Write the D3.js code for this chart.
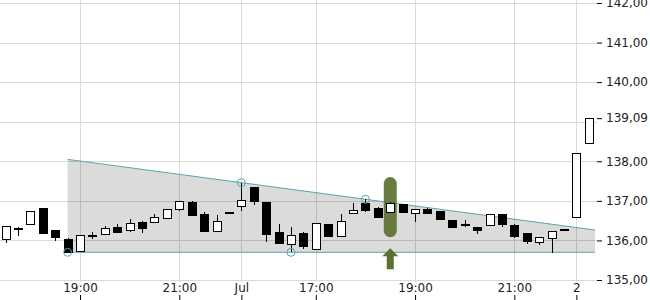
<!DOCTYPE html>
<html>
<head>
<meta charset="utf-8">
<script src="https://cdn.jsdelivr.net/npm/d3@7"></script>
<style>
  body { margin: 0; background: #fff; }
  text { font-family: "DejaVu Sans", sans-serif; font-size: 12px; fill: #222; }
</style>
</head>
<body>
<div id="chart"></div>
<script>
// 15-minute candles
var opens  = [136.04,136.32,136.41,136.81,136.26,136.04,135.73,136.13,136.16,136.33,136.26,136.46,
              136.46,136.56,136.79,136.96,136.66,136.23,136.71,136.86,137.34,136.96,136.21,135.91,
              136.19,135.79,136.41,136.10,136.70,136.95,136.81,136.71,136.93,136.69,136.80,136.75,
              136.52,136.42,136.33,136.38,136.67,136.38,136.18,135.97,136.07,136.28,136.58,138.45];
var highs  = [136.36,136.33,136.74,136.81,136.26,136.06,136.13,136.21,136.36,136.41,136.53,136.50,
              136.66,136.79,136.99,136.99,136.71,136.63,136.71,137.46,137.34,136.96,136.42,136.34,
              136.22,136.43,136.41,136.67,136.94,137.04,136.84,136.98,136.93,136.79,136.82,136.75,
              136.52,136.52,136.33,136.67,136.67,136.42,136.18,136.09,136.25,136.28,138.20,139.09];
var lows   = [135.94,136.11,136.41,136.20,135.99,135.70,135.73,136.04,136.16,136.21,136.22,136.20,
              136.46,136.53,136.74,136.63,136.21,136.23,136.71,136.75,136.90,135.97,135.94,135.70,
              135.78,135.79,136.12,136.10,136.68,136.73,136.60,136.71,136.73,136.47,136.69,136.55,
              136.35,136.33,136.15,136.36,136.35,136.06,135.91,135.88,135.67,136.28,136.58,138.45];
var closes = [136.36,136.32,136.74,136.20,136.08,135.70,136.13,136.13,136.31,136.21,136.43,136.31,
              136.58,136.79,136.99,136.63,136.25,136.48,136.71,137.01,137.00,136.17,135.94,136.13,
              135.87,136.43,136.12,136.48,136.76,136.78,136.60,136.95,136.73,136.79,136.69,136.55,
              136.35,136.42,136.26,136.67,136.41,136.11,135.99,136.09,136.25,136.28,138.20,139.09];

var tickIdx    = [6, 14, 19, 25, 33, 41, 46];
var tickLabels = ["19:00", "21:00", "Jul", "17:00", "19:00", "21:00", "2"];
var yTicks     = [135, 136, 137, 138, 139, 140, 141, 142];

// triangle pivots: [candle index, "high"/"low"]
var pivots   = [[5, "low"], [19, "high"], [23, "low"], [29, "high"]];
var signalIdx = 31;

var W = 650, H = 300;
var plotRight = 595, plotBottom = 282;

var fmt = d3.formatLocale({ decimal: ",", thousands: ".", grouping: [3], currency: ["", "€"] }).format(".2f");

var x = d3.scaleLinear().domain([-0.45, opens.length - 0.5]).range([0, plotRight]);
var y = d3.scaleLinear().domain([135, 142]).range([280, 3]);

var svg = d3.select("#chart").append("svg")
    .attr("width", W)
    .attr("height", H);

// grid
svg.append("g").selectAll("line")
    .data(yTicks).enter().append("line")
    .attr("x1", 0).attr("x2", plotRight + 2)
    .attr("y1", function (d) { return Math.round(y(d)) + 0.5; })
    .attr("y2", function (d) { return Math.round(y(d)) + 0.5; })
    .attr("stroke", "#d9d9d9");
svg.append("g").selectAll("line")
    .data(tickIdx).enter().append("line")
    .attr("x1", function (d) { return Math.round(x(d)) + 0.5; })
    .attr("x2", function (d) { return Math.round(x(d)) + 0.5; })
    .attr("y1", 0).attr("y2", plotBottom)
    .attr("stroke", "#d9d9d9");

// triangle
var hi1 = pivots[1], hi2 = pivots[3];
var slope = (highs[hi2[0]] - highs[hi1[0]]) / (hi2[0] - hi1[0]);
function upper(i) { return highs[hi1[0]] + (i - hi1[0]) * slope; }
var startIdx = pivots[0][0];
var endIdx = x.invert(plotRight);
var lowVal = lows[pivots[0][0]];

svg.append("path")
    .attr("d", d3.line()([
        [x(startIdx), y(upper(startIdx))],
        [x(endIdx), y(upper(endIdx))],
        [x(endIdx), y(lowVal)],
        [x(startIdx), y(lowVal)]
    ]))
    .attr("fill", "#000")
    .attr("fill-opacity", 0.14);
svg.append("line")
    .attr("x1", x(startIdx)).attr("y1", y(upper(startIdx)))
    .attr("x2", x(endIdx)).attr("y2", y(upper(endIdx)))
    .attr("stroke", "#5aa5ad");
svg.append("line")
    .attr("x1", x(startIdx)).attr("y1", y(lowVal))
    .attr("x2", x(endIdx)).attr("y2", y(lowVal))
    .attr("stroke", "#5aa5ad");

// signal marker
var sx = x(signalIdx);
svg.append("rect")
    .attr("x", sx - 6.5).attr("width", 13)
    .attr("y", y(137.60)).attr("height", y(136.08) - y(137.60))
    .attr("rx", 6.5).attr("ry", 6.5)
    .attr("fill", "#5c7232")
    .attr("fill-opacity", 0.92);
svg.append("path")
    .attr("d", d3.line()([
        [sx, y(135.8)], [sx + 8, y(135.6)], [sx + 3.5, y(135.6)], [sx + 3.5, y(135.27)],
        [sx - 3.5, y(135.27)], [sx - 3.5, y(135.6)], [sx - 8, y(135.6)]
    ]) + "Z")
    .attr("fill", "#5c7232");

// candles
var idx = d3.range(opens.length);
var bw = 8;
var candles = svg.append("g").attr("shape-rendering", "crispEdges");
candles.selectAll("line.wick")
    .data(idx).enter().append("line")
    .attr("class", "wick")
    .attr("x1", function (i) { return Math.round(x(i)) + 0.5; })
    .attr("x2", function (i) { return Math.round(x(i)) + 0.5; })
    .attr("y1", function (i) { return y(highs[i]); })
    .attr("y2", function (i) { return y(lows[i]); })
    .attr("stroke", "#000");
candles.selectAll("rect")
    .data(idx).enter().append("rect")
    .attr("x", function (i) { return Math.round(x(i)) - bw / 2 + 0.5; })
    .attr("width", bw)
    .attr("y", function (i) { return Math.round(y(Math.max(opens[i], closes[i]))) + 0.5; })
    .attr("height", function (i) {
        var h = Math.round(y(Math.min(opens[i], closes[i]))) - Math.round(y(Math.max(opens[i], closes[i])));
        return Math.max(h, 1);
    })
    .attr("fill", function (i) { return closes[i] > opens[i] ? "#fff" : "#000"; })
    .attr("stroke", "#000");

// pivot circles
svg.append("g").selectAll("circle")
    .data(pivots).enter().append("circle")
    .attr("cx", function (d) { return x(d[0]); })
    .attr("cy", function (d) { return y(d[1] === "high" ? highs[d[0]] : lows[d[0]]); })
    .attr("r", 4)
    .attr("fill", "none")
    .attr("stroke", "#5aa5ad");

// axes
var last = closes[closes.length - 1];
var yAxis = d3.axisRight(y)
    .tickValues(yTicks.filter(function (v) { return v !== Math.floor(last); }).concat([last]))
    .tickSize(5)
    .tickPadding(4)
    .tickFormat(fmt);
svg.append("g")
    .attr("transform", "translate(" + (plotRight + 2) + ",0)")
    .call(yAxis)
    .call(function (g) { g.select(".domain").remove(); })
    .call(function (g) { g.selectAll("text").attr("font-family", "DejaVu Sans").attr("font-size", 12).attr("fill", "#222"); });

var xAxis = d3.axisTop(x)
    .tickValues(tickIdx)
    .tickSize(5)
    .tickPadding(3)
    .tickFormat(function (d, i) { return tickLabels[i]; });
svg.append("g")
    .attr("transform", "translate(0," + H + ")")
    .call(xAxis)
    .call(function (g) { g.select(".domain").remove(); })
    .call(function (g) { g.selectAll("text").attr("font-family", "DejaVu Sans").attr("font-size", 12).attr("fill", "#222"); });
</script>
</body>
</html>
